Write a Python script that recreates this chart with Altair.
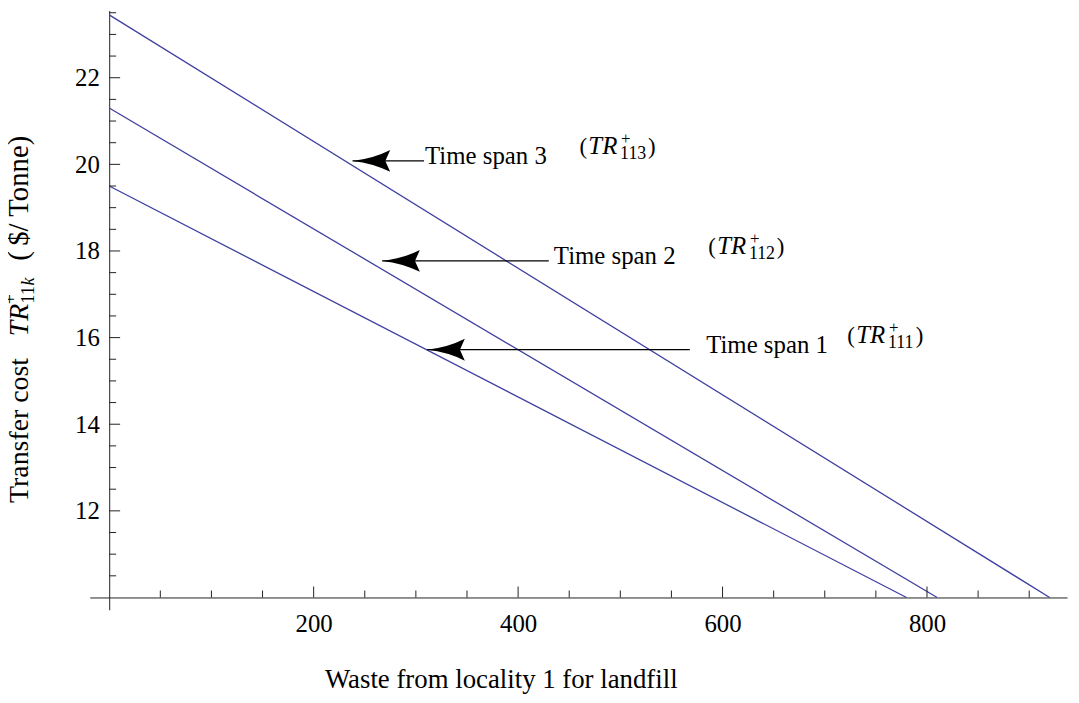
import altair as alt
import pandas as pd

# ---- data ----
series = ["Time span 1", "Time span 2", "Time span 3"]
x_start = [0, 0, 0]
y_start = [19.5, 21.3, 23.45]
x_end = [780, 810, 920]
y_end = [10, 10, 10]

x_major = [200, 400, 600, 800]
x_minor = [50, 100, 150, 250, 300, 350, 450, 500, 550, 650, 700, 750, 850, 900]
y_major = [12, 14, 16, 18, 20, 22]
y_minor = [10.5, 11, 11.5, 12.5, 13, 13.5, 14.5, 15, 15.5, 16.5, 17, 17.5,
           18.5, 19, 19.5, 20.5, 21, 21.5, 22.5, 23, 23.5]

arrow_text = ["Time span 1", "Time span 2", "Time span 3"]
arrow_tip_x = [311, 267, 238]
arrow_tail_x = [568, 430, 308]
arrow_y = [15.72, 17.77, 20.08]
label_x = [584, 435, 309]
tr_x = [722, 586, 460]
tr_sub = ["111", "112", "113"]

x_title = "Waste from locality 1 for landfill"

# ---- layout constants ----
X_DOM = [-19, 937]
Y_DOM = [9.716, 23.55]
W, H = 984.6, 603.7
PX_X = W / (X_DOM[1] - X_DOM[0])
PX_Y = H / (Y_DOM[1] - Y_DOM[0])
LEFT, TOP = 82.4, 0
AX_COLOR = "#222222"
LINE_COLOR = "#3f3fa0"
SERIF = "Times New Roman, Liberation Serif, DejaVu Serif, serif"

xaxis = alt.Axis(values=x_major, offset=-(10 - Y_DOM[0]) * PX_Y, domain=True,
                 domainColor=AX_COLOR, domainWidth=1, ticks=False, tickSize=0,
                 labelFont=SERIF, labelFontSize=25, labelColor="black",
                 labelPadding=14, grid=False, title=None, labelFlush=False,
                 labelOverlap=False)
yaxis = alt.Axis(values=y_major, offset=-(0 - X_DOM[0]) * PX_X, domain=True,
                 domainColor=AX_COLOR, domainWidth=1, ticks=False, tickSize=0,
                 labelFont=SERIF, labelFontSize=25, labelColor="black",
                 labelPadding=10, grid=False, title=None, labelFlush=False,
                 labelOverlap=False)
X = alt.X("x:Q", scale=alt.Scale(domain=X_DOM, nice=False, zero=False), axis=xaxis)
Y = alt.Y("y:Q", scale=alt.Scale(domain=Y_DOM, nice=False, zero=False), axis=yaxis)

# lines
rows = []
for s, xs, ys, xe, ye in zip(series, x_start, y_start, x_end, y_end):
    rows.append({"series": s, "x": xs, "y": ys})
    rows.append({"series": s, "x": xe, "y": ye})
df_lines = pd.DataFrame(rows)
lines = alt.Chart(df_lines).mark_line(color=LINE_COLOR, strokeWidth=1.3).encode(
    x=X, y=Y, detail="series:N")

# ticks (drawn inward, as in the reference)
maj_x_len, min_x_len = 11 / PX_Y, 7 / PX_Y
maj_y_len, min_y_len = 11 / PX_X, 7 / PX_X
df_xt = pd.DataFrame(
    [{"x": v, "y": 10, "y2": 10 + maj_x_len} for v in x_major] +
    [{"x": v, "y": 10, "y2": 10 + min_x_len} for v in x_minor])
df_yt = pd.DataFrame(
    [{"y": v, "x": 0, "x2": maj_y_len} for v in y_major] +
    [{"y": v, "x": 0, "x2": min_y_len} for v in y_minor])
xticks = alt.Chart(df_xt).mark_rule(color=AX_COLOR, strokeWidth=1).encode(x=X, y=Y, y2="y2:Q")
yticks = alt.Chart(df_yt).mark_rule(color=AX_COLOR, strokeWidth=1).encode(y=Y, x=X, x2="x2:Q")

# arrows
df_arr = pd.DataFrame({"x": arrow_tip_x, "x2": arrow_tail_x, "y": arrow_y,
                       "label": arrow_text, "lx": label_x,
                       "ly": [v - 3 / PX_Y for v in arrow_y],
                       "tx": tr_x, "ty": [v + 7 / PX_Y for v in arrow_y],
                       "sub": tr_sub})
arr_lines = alt.Chart(df_arr).mark_rule(color="black", strokeWidth=1.3).encode(x=X, x2="x2:Q", y=Y)
head_path = "M0,0 Q0.55,-0.06 1,-0.29 L0.87,0 L1,0.29 Q0.55,0.06 0,0 Z"
heads = alt.Chart(df_arr).mark_point(shape=head_path, filled=True, color="black",
                                     opacity=1, size=5776, strokeWidth=0).encode(x=X, y=Y)
labels = alt.Chart(df_arr).mark_text(font=SERIF, fontSize=25, align="left",
                                     baseline="alphabetic", color="black").encode(
    x=alt.X("lx:Q", scale=alt.Scale(domain=X_DOM, nice=False, zero=False), axis=xaxis),
    y=alt.Y("ly:Q", scale=alt.Scale(domain=Y_DOM, nice=False, zero=False), axis=yaxis),
    text="label:N")

TX = alt.X("tx:Q", scale=alt.Scale(domain=X_DOM, nice=False, zero=False), axis=xaxis)
TY = alt.Y("ty:Q", scale=alt.Scale(domain=Y_DOM, nice=False, zero=False), axis=yaxis)
base_tr = alt.Chart(df_arr)
tr_open = base_tr.mark_text(font=SERIF, fontSize=23, align="left", baseline="alphabetic",
                            color="black", text="(").encode(x=TX, y=TY)
tr_main = base_tr.mark_text(font=SERIF, fontSize=25, fontStyle="italic", align="left",
                            baseline="alphabetic", color="black", text="TR", dx=9).encode(x=TX, y=TY)
tr_sup = base_tr.mark_text(font=SERIF, fontSize=17, align="left", baseline="alphabetic",
                           color="black", text="+", dx=42, dy=-10).encode(x=TX, y=TY)
tr_subm = base_tr.mark_text(font=SERIF, fontSize=18, align="left", baseline="alphabetic",
                            color="black", dx=41, dy=5).encode(x=TX, y=TY, text="sub:N")
tr_close = base_tr.mark_text(font=SERIF, fontSize=23, align="left", baseline="alphabetic",
                             color="black", text=")", dx=69).encode(x=TX, y=TY)

# axis titles as text
one = pd.DataFrame({"t": [x_title]})
xt = alt.Chart(one).mark_text(font=SERIF, fontSize=27, align="center", baseline="alphabetic",
                              color="black").encode(
    x=alt.value(505 - 8 - LEFT), y=alt.value(691 - 8), text="t:N")

ybase = 28 - 8 - LEFT
def ypiece(txt, img_y, size=28, style="normal", shift=0.0):
    return alt.Chart(pd.DataFrame({"t": [txt]})).mark_text(
        font=SERIF, fontSize=size, fontStyle=style, align="left", baseline="alphabetic",
        angle=270, color="black").encode(
        x=alt.value(ybase + shift), y=alt.value(img_y - 8), text="t:N")

yt = [
    ypiece("Transfer cost", 504),
    ypiece("TR", 336, style="italic"),
    ypiece("+", 304, size=18, shift=-12),
    ypiece("11", 303, size=18, shift=6),
    ypiece("k", 285, size=18, style="italic", shift=6),
    ypiece("(", 260, size=29),
    ypiece("$/ Tonne)", 245, size=29),
]

chart = alt.layer(lines, xticks, yticks, arr_lines, heads, labels,
                  tr_open, tr_main, tr_sup, tr_subm, tr_close, xt, *yt).properties(
    width=W, height=H,
    autosize=alt.AutoSizeParams(type="none"),
    padding={"left": LEFT, "top": TOP, "right": 4, "bottom": 90},
).configure_view(strokeWidth=0)

chart.save("out.html", embed_options={"renderer": "svg", "actions": False})
